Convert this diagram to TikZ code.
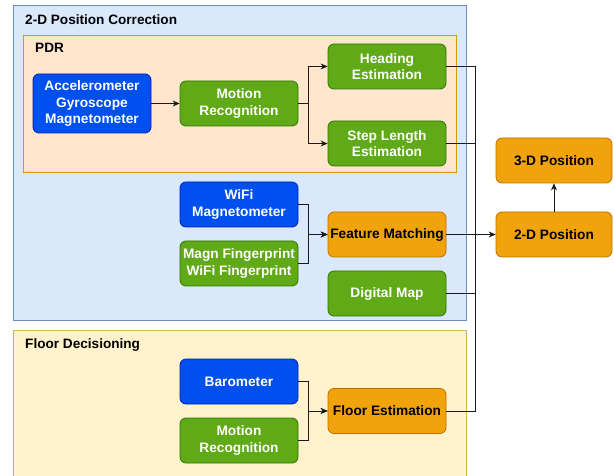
\documentclass[tikz,border=0pt]{standalone}
\usepackage{fontspec}
\setmainfont{Liberation Sans}
\usetikzlibrary{arrows.meta}
\definecolor{grpblueF}{HTML}{DAE8FC}\definecolor{grpblueD}{HTML}{6C8EBF}
\definecolor{grporF}{HTML}{FFE6CC}\definecolor{grporD}{HTML}{D79B00}
\definecolor{grpyeF}{HTML}{FFF2CC}\definecolor{grpyeD}{HTML}{D6B656}
\definecolor{nblueF}{HTML}{0050EF}\definecolor{nblueD}{HTML}{001DBC}
\definecolor{ngreenF}{HTML}{60A917}\definecolor{ngreenD}{HTML}{2D7600}
\definecolor{norF}{HTML}{F0A30A}\definecolor{norD}{HTML}{BD7000}
\definecolor{linec}{HTML}{1A1A1A}
\tikzset{
  box/.style={rounded corners=6pt, line width=0.8pt, minimum width=118pt, minimum height=45pt,
    align=center, inner sep=1pt, font=\bfseries\fontsize{13.7}{16.5}\selectfont},
  bluebox/.style={box, fill=nblueF, draw=nblueD, text=white},
  greenbox/.style={box, fill=ngreenF, draw=ngreenD, text=white},
  orbox/.style={box, fill=norF, draw=norD, text=black},
  grptitle/.style={anchor=west, inner sep=0pt, font=\bfseries\fontsize{13.6}{16}\selectfont},
  conn/.style={draw=linec, line width=0.8pt},
  arr/.style={conn, -{Stealth[length=7pt,width=6pt]}}
}
\begin{document}
\begin{tikzpicture}[x=1pt,y=-1pt]
\useasboundingbox (0,0) rectangle (614,476);
\clip (0,0) rectangle (614,476);
% groups
\draw[fill=grpblueF, draw=grpblueD, line width=0.8pt] (13,5) rectangle (466,320);
\node[grptitle] (tpos) at (25,20) {2-D Position Correction};
\draw[fill=grporF, draw=grporD, line width=0.8pt] (23,35) rectangle (456,172);
\node[grptitle] (tpdr) at (35,48) {PDR};
\draw[fill=grpyeF, draw=grpyeD, line width=0.8pt] (13,330) rectangle (466,490);
\node[grptitle] (tfl) at (25,345) {Floor Decisioning};
% nodes
\node[bluebox, minimum height=59pt] (acc) at (92,103.5) {Accelerometer\\Gyroscope\\Magnetometer};
\node[greenbox] (mr1) at (239,103.5) {Motion\\Recognition};
\node[greenbox] (head) at (387,66.5) {Heading\\Estimation};
\node[greenbox] (step) at (387,143.5) {Step Length\\Estimation};
\node[bluebox] (wifi) at (239,204.5) {WiFi\\Magnetometer};
\node[greenbox] (fp) at (239,263.5) {Magn Fingerprint\\WiFi Fingerprint};
\node[orbox] (fm) at (387,234.5) {Feature Matching};
\node[greenbox] (dm) at (387,293.5) {Digital Map};
\node[orbox, minimum width=116pt] (p2) at (554,234.5) {2-D Position};
\node[orbox, minimum width=116pt] (p3) at (554,160.5) {3-D Position};
\node[bluebox] (baro) at (239,381.5) {Barometer};
\node[greenbox] (mr2) at (239,440.5) {Motion\\Recognition};
\node[orbox] (fe) at (387,411) {Floor Estimation};
% connectors
\coordinate (bus) at (475,0);
\draw[arr] (acc.east) -- (mr1.west);
\draw[arr] (mr1.east) -- ++(10,0) |- (head.west);
\draw[arr] (mr1.east) -- ++(10,0) |- (step.west);
\draw[arr] (wifi.east) -- ++(10,0) |- (fm.west);
\draw[arr] (fp.east) -- ++(10,0) |- (fm.west);
\draw[arr] (baro.east) -- ++(10,0) |- (fe.west);
\draw[arr] (mr2.east) -- ++(10,0) |- (fe.west);
\draw[conn] (head.east) -| (bus |- fe.east) -- (fe.east);
\draw[conn] (step.east) -- (bus |- step.east);
\draw[conn] (dm.east) -- (bus |- dm.east);
\draw[arr] (fm.east) -- (p2.west);
\draw[arr] (p2.north) -- (p3.south);
\end{tikzpicture}
\end{document}
